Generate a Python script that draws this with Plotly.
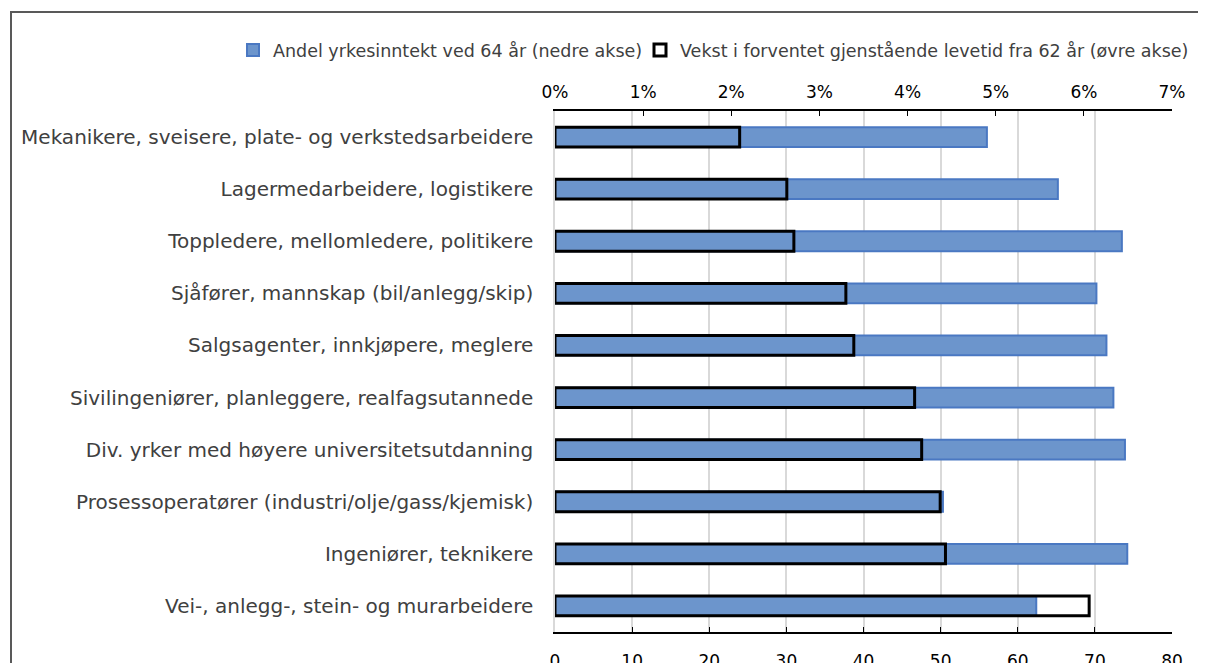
import plotly.graph_objects as go

categories = [
    "Mekanikere, sveisere, plate- og verkstedsarbeidere",
    "Lagermedarbeidere, logistikere",
    "Toppledere, mellomledere, politikere",
    "Sjåfører, mannskap (bil/anlegg/skip)",
    "Salgsagenter, innkjøpere, meglere",
    "Sivilingeniører, planleggere, realfagsutannede",
    "Div. yrker med høyere universitetsutdanning",
    "Prosessoperatører (industri/olje/gass/kjemisk)",
    "Ingeniører, teknikere",
    "Vei-, anlegg-, stein- og murarbeidere",
]
andel_yrkesinntekt = [56.0, 65.2, 73.5, 70.2, 71.5, 72.4, 73.9, 50.3, 74.2, 62.4]
vekst_levetid = [0.02095, 0.0263, 0.0271, 0.0330, 0.0339, 0.0408, 0.0416, 0.0437, 0.0443, 0.0606]

name_blue = "Andel yrkesinntekt ved 64 år (nedre akse)"
name_black = "Vekst i forventet gjenstående levetid fra 62 år (øvre akse)"

# page body has an 8px margin: work in figure coordinates = screen - 8
OFF = 8
W, H = 1206, 663
ML = 555 - OFF
MT = 111 - OFF
MR = W - (1172 - OFF)
MB = H - (632 - OFF)
PW, PH = W - ML - MR, H - MT - MB

FONT = "DejaVu Sans, Verdana, sans-serif"


def px_x(px):
    return (px - OFF - ML) / PW


def px_y(py):
    return 1 - (py - OFF - MT) / PH


fig = go.Figure()
fig.add_trace(go.Bar(
    y=categories, x=andel_yrkesinntekt, orientation="h", name=name_blue,
    marker=dict(color="#6c95cc", line=dict(color="#4a78c2", width=2)),
    xaxis="x", yaxis="y", legend="legend",
))
fig.add_trace(go.Bar(
    y=categories, x=vekst_levetid, orientation="h", name=name_black,
    marker=dict(color="rgba(255,255,255,0)", line=dict(color="#000000", width=3)),
    xaxis="x2", yaxis="y", legend="legend2",
))

legend_common = dict(
    orientation="h", yanchor="middle", font=dict(family=FONT, size=17.5, color="#404040"),
    itemwidth=30, bgcolor="rgba(0,0,0,0)", borderwidth=0,
)

fig.update_layout(
    width=W, height=H,
    margin=dict(l=ML, r=MR, t=MT, b=MB, pad=0, autoexpand=False),
    paper_bgcolor="white", plot_bgcolor="white",
    font=dict(family=FONT, size=17, color="#404040"),
    barmode="overlay", bargap=0.62,
    showlegend=True,
    legend=dict(legend_common, xanchor="left", x=px_x(233), y=px_y(50)),
    legend2=dict(legend_common, xanchor="left", x=px_x(640), y=px_y(50)),
    xaxis=dict(
        range=[0, 80], dtick=10, side="bottom", showgrid=True, gridcolor="#d9d9d9", gridwidth=1.5,
        showline=True, linecolor="#000000", linewidth=1.5, ticks="inside", ticklen=5,
        tickcolor="#000000", tickfont=dict(family=FONT, color="#000000", size=17), zeroline=False,
        ticklabelstandoff=13,
    ),
    xaxis2=dict(
        range=[0, 0.07], dtick=0.01, tickformat=".0%", overlaying="x", side="top",
        showgrid=False, showline=True, linecolor="#000000", linewidth=1.5, ticks="inside",
        ticklen=5, tickcolor="#000000", tickfont=dict(family=FONT, color="#000000", size=17),
        zeroline=False, ticklabelstandoff=4,
    ),
    yaxis=dict(
        autorange="reversed", showgrid=False, showline=True, linecolor="#d9d9d9", linewidth=1.5,
        ticks="", tickfont=dict(family=FONT, color="#404040", size=20), ticklabelstandoff=16,
    ),
)

fig.add_shape(
    type="rect", xref="paper", yref="paper",
    x0=px_x(11), x1=px_x(1240),
    y0=px_y(700), y1=px_y(12),
    line=dict(color="#595959", width=2), fillcolor="rgba(0,0,0,0)", layer="below",
)

fig.write_html("out.html")
